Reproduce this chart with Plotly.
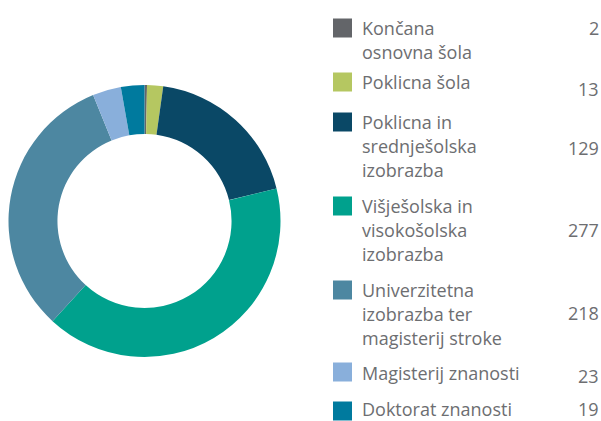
import plotly.graph_objects as go

# Education level breakdown
categories = [
    "Končana<br>osnovna šola",
    "Poklicna šola",
    "Poklicna in<br>srednješolska<br>izobrazba",
    "Višješolska in<br>visokošolska<br>izobrazba",
    "Univerzitetna<br>izobrazba ter<br>magisterij stroke",
    "Magisterij znanosti",
    "Doktorat znanosti",
]
values = [2, 13, 129, 277, 218, 23, 19]
colors = ["#636569", "#B5C761", "#0A4866", "#00A18D", "#4D87A1", "#89AFDB", "#007A9E"]

W, H = 601, 421
FONT = "Open Sans"
FONT_SIZE = 18
TEXT_COLOR = "#6d6e71"

fig = go.Figure()
fig.add_trace(go.Pie(
    labels=[c.replace("<br>", " ") for c in categories],
    values=values,
    marker=dict(colors=colors, line=dict(width=0)),
    hole=0.64,
    sort=False,
    direction="clockwise",
    rotation=0,
    textinfo="none",
    hoverinfo="label+value",
    showlegend=False,
    domain=dict(x=[8 / W, 281 / W], y=[(H - 357) / H, (H - 85) / H]),
))

# Custom legend: colour square, wrapped label, right-aligned value
first_line_y = [28, 82, 122, 206, 290, 373, 409]
value_y = [28, 89, 148, 230, 313, 376, 409]
square_y = [28, 82, 122, 206, 290, 372, 411]
line_gap = 24.2
sq = 19

shapes = []
annotations = []
for i, (cat, val, col) in enumerate(zip(categories, values, colors)):
    cy = first_line_y[i]
    sy = square_y[i]
    shapes.append(dict(
        type="rect", xref="paper", yref="paper",
        x0=333 / W, x1=(333 + sq) / W,
        y0=1 - (sy + sq / 2) / H, y1=1 - (sy - sq / 2) / H,
        fillcolor=col, line=dict(width=0),
    ))
    for j, line in enumerate(cat.split("<br>")):
        annotations.append(dict(
            text=line, xref="paper", yref="paper",
            x=361 / W, y=1 - (cy + j * line_gap) / H,
            xanchor="left", yanchor="middle", showarrow=False,
            borderpad=0,
            font=dict(family=FONT, size=FONT_SIZE, color=TEXT_COLOR),
        ))
    annotations.append(dict(
        text=str(val), xref="paper", yref="paper",
        x=600 / W, y=1 - value_y[i] / H,
        xanchor="right", yanchor="middle", showarrow=False,
        borderpad=0,
        font=dict(family=FONT, size=FONT_SIZE, color=TEXT_COLOR),
    ))

fig.update_layout(
    width=W, height=H,
    margin=dict(l=0, r=0, t=0, b=0),
    paper_bgcolor="white",
    plot_bgcolor="white",
    shapes=shapes,
    annotations=annotations,
)

fig.write_html("out.html")
